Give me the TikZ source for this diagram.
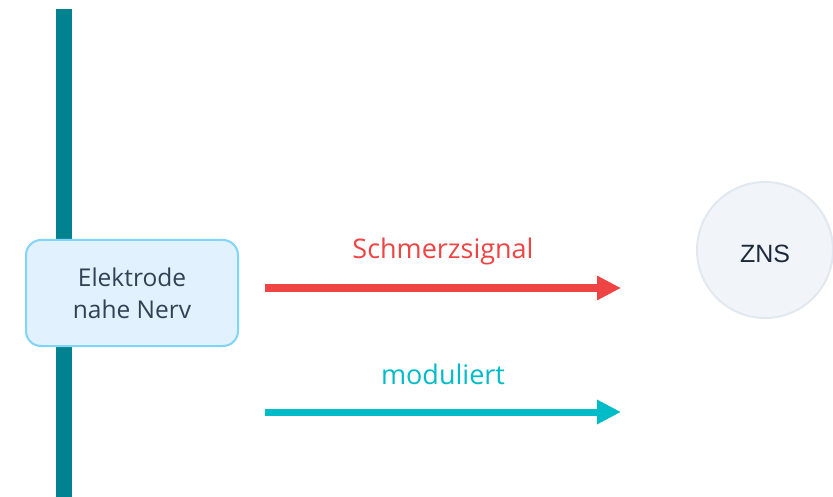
\documentclass[tikz,border=0pt]{standalone}
\usepackage{fontspec}
\setmainfont{Open Sans}
\newfontfamily\znsfont{Liberation Sans}
\usetikzlibrary{arrows.meta}
\definecolor{nerve}{HTML}{00838F}
\definecolor{boxfill}{HTML}{E1F1FD}
\definecolor{boxline}{HTML}{81D4FA}
\definecolor{txt}{HTML}{334155}
\definecolor{znstxt}{HTML}{1E293B}
\definecolor{znsfill}{HTML}{F1F5F9}
\definecolor{znsline}{HTML}{E2E8F0}
\definecolor{pain}{HTML}{EF4444}
\definecolor{modc}{HTML}{00BCC8}
\tikzset{
  elecbox/.style={draw=boxline, fill=boxfill, line width=2pt, rounded corners=15pt,
    minimum width=212pt, minimum height=106pt, align=center, text=txt,
    font=\fontsize{24.5}{32}\selectfont},
  znsnode/.style={circle, draw=znsline, fill=znsfill, line width=2pt, minimum size=136pt},
  sigarrow/.style={line width=7pt, -{Triangle[length=24pt,width=23pt]}},
  siglabel/.style={font=\fontsize{27}{30}\selectfont, anchor=base, inner sep=0pt}
}
\begin{document}
\begin{tikzpicture}[x=1pt,y=-1pt]
\useasboundingbox (0,0) rectangle (833,497);
\fill[nerve] (56,9) rectangle (72,497);
\node[elecbox] (elec) at (132,293) {Elektrode\\nahe Nerv};
\node[znsnode] (zns) at (765,250) {};
\node[text=znstxt, font=\znsfont\fontsize{25}{30}\selectfont, anchor=base, inner sep=0pt] (znst) at (765,263) {ZNS};
\coordinate (p1s) at (265,288);
\coordinate (p1e) at (621,288);
\coordinate (p2s) at (265,412);
\coordinate (p2e) at (621,412);
\draw[sigarrow, pain] (p1s) -- (p1e);
\draw[sigarrow, modc] (p2s) -- (p2e);
\node[siglabel, text=pain] (l1) at (443,259) {Schmerzsignal};
\node[siglabel, text=modc] (l2) at (443,384) {moduliert};
\end{tikzpicture}
\end{document}
